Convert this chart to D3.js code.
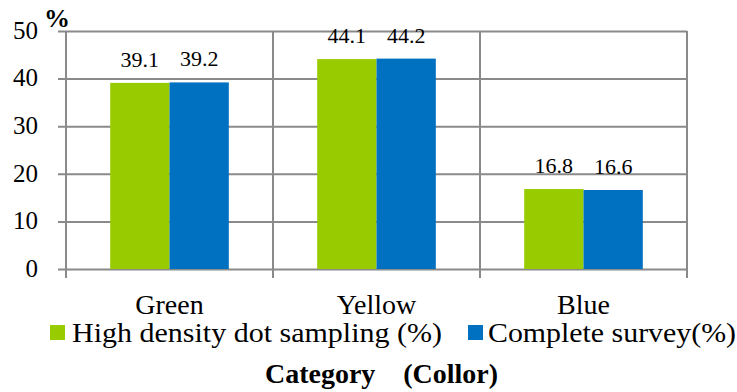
<!DOCTYPE html>
<html>
<head>
<meta charset="utf-8">
<script src="https://cdn.jsdelivr.net/npm/d3@7"></script>
<style>
  html, body { margin: 0; padding: 0; background: #fff; }
  svg { display: block; }
</style>
</head>
<body>
<svg id="chart" width="737" height="392"></svg>
<script>
// Colour categories and the two survey methods
const categories = ["Green", "Yellow", "Blue"];
const seriesNames = ["High density dot sampling (%)", "Complete survey(%)"];
const highDensity = [39.1, 44.1, 16.8];
const completeSurvey = [39.2, 44.2, 16.6];
const yTicks = [0, 10, 20, 30, 40, 50];
const seriesColors = ["#99cc00", "#0070c0"];

const seriesValues = [highDensity, completeSurvey];
const serif = '"Liberation Serif"';

const svg = d3.select("#chart");
const margin = { left: 66, right: 50, top: 31, bottom: 123 };
const W = 737, H = 392;
const plotW = W - margin.left - margin.right;
const plotH = H - margin.top - margin.bottom;
const gridColor = "#8a8a8a";

const x = d3.scaleBand().domain(categories).range([margin.left, margin.left + plotW]).padding(0);
const xs = d3.scaleBand().domain(d3.range(seriesNames.length)).range([0, x.bandwidth()])
  .paddingInner(0).paddingOuter(0.745);
const y = d3.scaleLinear().domain([0, 50]).range([margin.top + plotH, margin.top]);

// Horizontal gridlines with tick stubs left of the axis
const gy = svg.append("g").attr("transform", `translate(${margin.left + plotW},0)`);
gy.call(d3.axisLeft(y).tickValues(yTicks).tickSize(plotW + 8).tickFormat(""));
gy.select(".domain").remove();
gy.selectAll(".tick line").attr("stroke", gridColor).attr("stroke-width", 2);

// Y tick labels
const gl = svg.append("g").attr("transform", `translate(${margin.left},0)`);
gl.call(d3.axisLeft(y).tickValues(yTicks).tickSize(0).tickPadding(28).tickFormat(d3.format("d")));
gl.select(".domain").remove();
gl.selectAll(".tick text").style("font-family", serif).attr("font-size", 25)
  .attr("fill", "#000").attr("dy", "0.29em");

// Vertical axis, category separators and right border
const sepX = categories.map(c => x(c)).concat([x(categories[categories.length - 1]) + x.bandwidth()]);
svg.append("g").selectAll("line").data(sepX).join("line")
  .attr("x1", d => d).attr("x2", d => d)
  .attr("y1", margin.top).attr("y2", y(0) + 9)
  .attr("stroke", gridColor).attr("stroke-width", 2);

// Bars
const groups = svg.append("g").selectAll("g").data(categories).join("g")
  .attr("transform", c => `translate(${x(c)},0)`);
groups.selectAll("rect").data((c, i) => seriesValues.map((s, k) => ({ k, v: s[i] }))).join("rect")
  .attr("x", d => xs(d.k)).attr("width", xs.bandwidth())
  .attr("y", d => y(d.v)).attr("height", d => y(0) - y(d.v))
  .attr("fill", d => seriesColors[d.k]);

// Value labels
groups.selectAll("text.val").data((c, i) => seriesValues.map((s, k) => ({ k, v: s[i] }))).join("text")
  .attr("class", "val")
  .attr("x", d => xs(d.k) + xs.bandwidth() / 2)
  .attr("y", d => y(d.v) - 16)
  .attr("text-anchor", "middle").attr("font-size", 22)
  .style("font-family", serif)
  .text(d => d3.format(".1f")(d.v));

// Category labels
svg.append("g").selectAll("text").data(categories).join("text")
  .attr("x", c => x(c) + x.bandwidth() / 2).attr("y", 314)
  .attr("text-anchor", "middle").attr("font-size", 28)
  .style("font-family", serif)
  .text(c => c);

// Unit label
svg.append("text").attr("x", 44).attr("y", 27).attr("font-size", 26).attr("font-weight", "bold")
  .style("font-family", serif)
  .text("%");

// Legend
const legendX = [50, 468];
const legendTextW = [370, 248];
const lg = svg.append("g").selectAll("g").data(seriesNames).join("g")
  .attr("transform", (d, i) => `translate(${legendX[i]},0)`);
lg.append("rect").attr("x", 0).attr("y", 325).attr("width", 15).attr("height", 15)
  .attr("fill", (d, i) => seriesColors[i]);
lg.append("text").attr("x", (d, i) => i === 0 ? 22 : 20).attr("y", 342)
  .attr("font-size", 27)
  .style("font-family", serif)
  .attr("textLength", (d, i) => legendTextW[i]).attr("lengthAdjust", "spacingAndGlyphs")
  .text(d => d);

// Axis title
svg.append("text").attr("x", 265).attr("y", 383).attr("font-size", 27).attr("font-weight", "bold")
  .style("font-family", serif)
  .attr("textLength", 233).attr("lengthAdjust", "spacingAndGlyphs")
  .text("Category\u3000(Collor)");
</script>
</body>
</html>
